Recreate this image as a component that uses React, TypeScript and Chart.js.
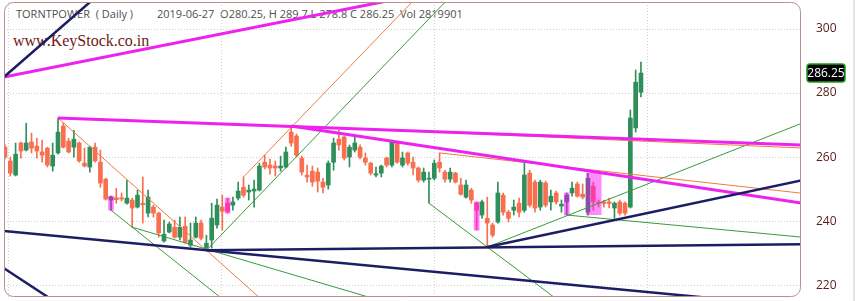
import React, { useEffect, useRef } from 'react';
import { Chart, registerables } from 'chart.js';

Chart.register(...registerables);

// ---- candle data (index 0..120), prices ----
const opens = [
  263.1, 258.8, 254.4, 264.4, 262.2, 264.7, 263.4, 261.6, 262.8, 257.2,
  261.3, 269.7, 265.0, 263.1, 264.4, 258.1, 256.9, 263.1, 258.4, 253.1,
  246.6, 247.3, 247.3, 245.6, 246.6, 244.4, 245.6, 242.5, 244.4, 242.5,
  233.8, 236.6, 238.1, 235.0, 238.4, 232.5, 235.0, 239.4, 231.6, 234.1,
  238.8, 244.4, 245.6, 245.0, 247.2, 250.6, 249.1, 249.4, 249.7, 258.4,
  257.5, 257.2, 256.6, 256.9, 267.8, 266.6, 259.7, 254.4, 255.6, 255.3,
  252.2, 251.3, 258.4, 265.6, 266.3, 260.0, 262.2, 263.1, 259.7, 258.1,
  254.4, 255.0, 259.7, 257.5, 264.4, 257.5, 261.3, 258.4, 256.6, 252.8,
  253.1, 253.4, 258.4, 255.3, 253.1, 255.0, 251.3, 247.5, 249.7, 245.6,
  241.9, 240.9, 238.8, 239.7, 248.1, 242.8, 243.4, 245.6, 243.4, 255.0,
  252.2, 244.4, 251.9, 246.0, 248.8, 244.7, 246.0, 248.8, 251.6, 248.4,
  242.8, 250.9, 245.9, 246.0, 246.0, 244.1, 246.0, 245.6, 244.4, 269.1,
  280.25,
];
const highs = [
  263.8, 260.0, 264.4, 264.7, 270.6, 267.5, 265.9, 265.3, 263.1, 264.4,
  272.2, 270.6, 265.9, 268.4, 264.7, 262.8, 263.4, 264.4, 262.2, 253.4,
  247.8, 250.3, 248.8, 252.8, 247.2, 249.7, 253.8, 249.7, 245.0, 242.8,
  240.3, 239.7, 240.3, 241.3, 241.3, 239.4, 241.3, 240.3, 235.6, 245.6,
  246.9, 248.1, 247.2, 247.5, 252.2, 253.8, 251.3, 252.8, 258.1, 260.6,
  259.4, 258.8, 260.3, 263.1, 269.7, 267.2, 260.3, 257.5, 257.2, 256.6,
  253.4, 258.8, 265.9, 268.4, 266.6, 263.8, 266.6, 263.8, 261.3, 258.4,
  256.9, 257.5, 260.0, 265.3, 265.0, 261.6, 261.6, 260.0, 256.9, 256.6,
  255.3, 259.1, 261.3, 255.9, 256.6, 255.3, 253.4, 252.8, 250.3, 246.0,
  246.6, 247.5, 239.4, 252.2, 248.8, 243.4, 246.6, 247.2, 258.1, 255.9,
  252.8, 252.8, 252.5, 249.7, 249.4, 246.6, 248.8, 252.2, 252.2, 251.6,
  255.0, 252.2, 246.6, 246.6, 247.2, 246.0, 246.6, 246.0, 274.7, 287.2,
  289.7,
];
const lows = [
  259.4, 254.1, 254.1, 259.7, 261.9, 261.3, 259.7, 258.4, 256.9, 255.6,
  260.9, 262.8, 261.3, 260.0, 258.4, 256.9, 255.3, 258.4, 250.6, 246.6,
  243.4, 245.6, 246.3, 245.3, 238.1, 244.1, 239.4, 241.3, 241.3, 235.0,
  233.4, 236.3, 234.7, 234.1, 233.1, 231.9, 234.7, 234.1, 230.9, 231.6,
  237.8, 237.2, 242.5, 243.4, 246.6, 247.5, 246.6, 244.4, 249.4, 256.3,
  254.7, 254.1, 255.6, 256.6, 263.4, 260.0, 254.4, 252.2, 250.9, 249.1,
  248.8, 250.0, 255.9, 262.2, 259.1, 256.9, 261.6, 259.4, 257.5, 254.4,
  253.8, 253.8, 256.9, 256.9, 258.1, 256.9, 257.5, 254.4, 252.2, 252.2,
  245.6, 252.8, 255.3, 252.2, 252.2, 251.9, 248.1, 247.2, 245.6, 237.2,
  240.9, 231.9, 235.0, 239.4, 241.9, 239.7, 241.9, 241.3, 242.8, 244.4,
  242.8, 243.4, 244.4, 243.4, 245.3, 242.8, 241.9, 247.8, 247.5, 246.9,
  241.9, 243.4, 244.4, 244.4, 244.1, 240.9, 241.9, 241.9, 244.1, 267.8,
  278.8,
];
const closes = [
  260.0, 255.0, 260.9, 261.9, 264.4, 262.8, 261.9, 260.6, 257.5, 260.6,
  267.8, 263.1, 261.6, 265.6, 258.8, 257.2, 263.1, 258.8, 251.9, 246.9,
  247.5, 246.7, 246.9, 247.2, 244.1, 248.1, 245.1, 247.5, 242.5, 236.3,
  235.9, 239.1, 235.0, 238.1, 233.4, 234.1, 239.4, 234.7, 233.1, 240.9,
  245.0, 243.1, 243.1, 246.0, 249.4, 248.1, 249.7, 250.0, 257.2, 256.9,
  256.6, 256.6, 257.2, 261.6, 264.4, 260.6, 255.3, 253.8, 252.2, 252.5,
  250.6, 258.1, 264.4, 263.8, 259.7, 263.1, 264.4, 260.0, 258.4, 255.0,
  254.8, 257.2, 257.5, 264.7, 258.4, 259.7, 258.1, 256.6, 252.8, 255.3,
  253.4, 258.1, 256.6, 253.1, 255.3, 252.2, 248.4, 251.3, 246.6, 243.4,
  246.0, 239.4, 235.6, 248.8, 242.8, 240.9, 244.4, 242.8, 254.4, 245.0,
  244.1, 252.2, 245.0, 247.8, 246.0, 245.3, 248.1, 250.3, 247.8, 247.5,
  253.4, 246.0, 245.6, 245.5, 245.5, 245.6, 242.5, 242.5, 272.2, 283.4,
  286.25,
];

// ticks / grid
const yTicks = [220, 240, 260, 280, 300];
const xGrid = [0.75, 40.94, 81.13, 121.32];

// highlighted candles (pattern marks) and pattern box
const markedCandles = [20, 42, 89, 106];
const patternBox = { from: 109.6, to: 112.6, lo: 241.9, hi: 255.0 };

// trend lines: [index, price] end points
type Seg = [number, number][];
const navyLines: Seg[] = [
  [[-0.2, 285.0], [17, 309.8]],
  [[-0.2, 236.9], [135, 215.7]],
  [[38, 230.9], [151, 232.8]],
  [[-0.2, 225.3], [9, 215.3]],
  [[91, 231.9], [151, 253.0]],
];
const magentaLines: Seg[] = [
  [[-0.2, 285.0], [75, 309.7]],
  [[10, 272.2], [151, 263.7]],
  [[54, 269.7], [151, 245.5]],
];
const orangeLines: Seg[] = [
  [[45, 253.8], [78, 310.5]],
  [[10, 272.2], [50, 213.2]],
  [[54, 269.7], [151, 262.8]],
  [[82, 261.3], [151, 248.6]],
];
const greenLines: Seg[] = [
  [[38, 230.9], [86, 313.5]],
  [[80, 245.6], [105, 214.5]],
  [[91, 231.9], [151, 271.0]],
  [[20, 243.4], [42, 214.4]],
  [[24, 238.1], [70, 215.6]],
  [[106, 241.9], [151, 234.9]],
];

const X_MIN = -0.19;
const X_MAX = 150.2;
const Y_MIN = 216.31;
const Y_MAX = 308.44;

const UP = '#2f8f5b';
const DOWN = '#fa6e50';

const framePlugin = {
  id: 'frame',
  afterDraw(chart: any) {
    const { ctx, chartArea: a, scales } = chart;
    ctx.save();
    ctx.strokeStyle = '#bb8f8f';
    ctx.lineWidth = 1;
    ctx.beginPath();
    ctx.roundRect(a.left + 0.5, a.top + 0.5, a.right - a.left - 1, a.bottom - a.top - 1, 9);
    ctx.stroke();
    const last = closes[closes.length - 1];
    const y = scales.y.getPixelForValue(last);
    const bx = a.right + 6;
    const bw = 38;
    const bh = 18;
    ctx.beginPath();
    ctx.roundRect(bx, y - bh / 2, bw, bh, 3);
    ctx.fillStyle = '#000';
    ctx.fill();
    ctx.strokeStyle = '#1f9a1f';
    ctx.lineWidth = 1.5;
    ctx.stroke();
    ctx.fillStyle = '#fff';
    ctx.font = '12px "Open Sans"';
    ctx.textAlign = 'center';
    ctx.textBaseline = 'middle';
    ctx.fillText(last.toFixed(2), bx + bw / 2, y + 0.5);
    ctx.restore();
  },
};

function lineSets(segs: Seg[], color: string, width: number) {
  return segs.map((s) => ({
    type: 'line' as const,
    data: s.map(([x, y]) => ({ x, y })),
    borderColor: color,
    borderWidth: width,
    pointRadius: 0,
    fill: false,
    tension: 0,
    clip: 0,
    order: 0,
  }));
}

export default function App() {
  const ref = useRef<HTMLCanvasElement>(null);
  useEffect(() => {
    if (!ref.current) return;
    const colors = opens.map((o, i) => (closes[i] >= o ? UP : DOWN));
    const chart = new Chart(ref.current, {
      type: 'bar',
      data: {
        datasets: [
          ...lineSets(navyLines, '#1d1d66', 2.5),
          ...lineSets(magentaLines, '#ee22ee', 3),
          ...lineSets(orangeLines, '#f07a40', 1),
          ...lineSets(greenLines, '#3a9a3a', 1),
          {
            type: 'line',
            data: [
              { x: patternBox.from, y: patternBox.hi },
              { x: patternBox.to, y: patternBox.hi },
            ],
            borderWidth: 0,
            borderColor: 'rgba(0,0,0,0)',
            backgroundColor: 'rgba(255,0,255,0.45)',
            pointRadius: 0,
            fill: { value: patternBox.lo },
            order: 1,
          },
          {
            type: 'bar',
            data: markedCandles.map((i) => ({ x: i, y: [lows[i], highs[i]] })),
            backgroundColor: 'rgba(255,0,255,0.5)',
            barThickness: 5,
            grouped: false,
            borderWidth: 0,
            order: 1,
          },
          {
            type: 'bar',
            data: opens.map((o, i) => ({ x: i, y: [o, closes[i]] })),
            backgroundColor: colors,
            barThickness: 4,
            minBarLength: 1,
            grouped: false,
            borderWidth: 0,
            order: 2,
          },
          {
            type: 'bar',
            data: opens.map((_, i) => ({ x: i, y: [lows[i], highs[i]] })),
            backgroundColor: colors,
            barThickness: 1,
            grouped: false,
            borderWidth: 0,
            order: 3,
          },
        ] as any,
      },
      options: {
        responsive: false,
        animation: false,
        events: [],
        layout: { padding: { left: 4, top: 2, right: 0, bottom: 4 } },
        plugins: { legend: { display: false }, tooltip: { enabled: false } },
        scales: {
          x: {
            type: 'linear',
            min: X_MIN,
            max: X_MAX,
            offset: false,
            grid: { color: '#cfcfcf', drawTicks: false, offset: false },
            border: { display: false, dash: [1, 2] },
            ticks: { display: false },
            afterBuildTicks: (s: any) => {
              s.ticks = xGrid.map((value) => ({ value }));
            },
            afterFit: (s: any) => {
              s.height = 0;
              s.paddingLeft = 0;
              s.paddingRight = 0;
            },
          },
          y: {
            type: 'linear',
            position: 'right',
            min: Y_MIN,
            max: Y_MAX,
            beginAtZero: false,
            grid: { color: '#cfcfcf', drawTicks: false },
            border: { display: false, dash: [1, 2] },
            ticks: { color: '#5b2020', font: { family: 'Open Sans', size: 12 }, padding: 15 },
            afterBuildTicks: (s: any) => {
              s.ticks = yTicks.map((value) => ({ value }));
            },
            afterFit: (s: any) => {
              s.width = 54;
              s.paddingTop = 0;
              s.paddingBottom = 0;
            },
          },
        },
      } as any,
      plugins: [framePlugin],
    });
    return () => chart.destroy();
  }, []);

  const textStyle: React.CSSProperties = {
    position: 'absolute',
    top: 7,
    fontFamily: '"Open Sans", sans-serif',
    fontSize: 11,
    lineHeight: '14px',
    color: '#505050',
    whiteSpace: 'pre',
  };

  return (
    <div style={{ position: 'fixed', left: 0, top: 0, width: 855, height: 301, background: '#fff', overflow: 'hidden' }}>
      <div style={{ ...textStyle, left: 16 }}>TORNTPOWER  ( Daily )</div>
      <div style={{ ...textStyle, left: 157 }}>2019-06-27  O280.25, H 289.7 L 278.8 C 286.25  Vol 2819901</div>
      <div
        style={{
          position: 'absolute',
          left: 13,
          top: 31,
          fontFamily: '"Liberation Serif", serif',
          fontSize: 16,
          lineHeight: '20px',
          color: '#701818',
          whiteSpace: 'pre',
        }}
      >
        www.KeyStock.co.in
      </div>
      <div style={{ position: 'absolute', left: 853, top: 0, width: 2, height: 301, background: '#e4e4e4' }} />
      <canvas ref={ref} width={855} height={301} style={{ position: 'absolute', left: 0, top: 0 }} />
    </div>
  );
}
